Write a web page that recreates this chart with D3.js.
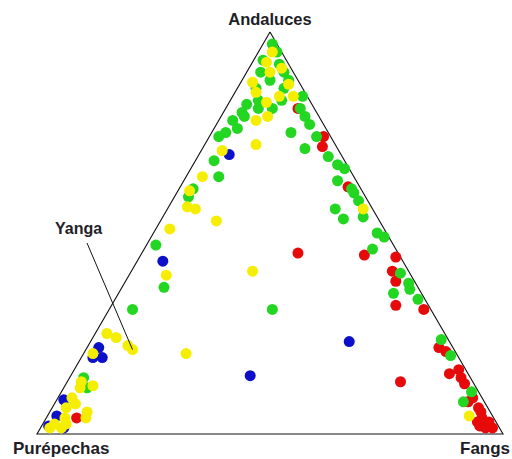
<!DOCTYPE html>
<html>
<head>
<meta charset="utf-8">
<script src="https://cdn.jsdelivr.net/npm/d3@7"></script>
<style>
  body { margin: 0; background: #fff; }
  svg { display: block; }
</style>
</head>
<body>
<script>
// corner labels: top, bottom-left, bottom-right
const corners = ["Andaluces", "Purépechas", "Fangs"];

// each row: [Andaluces, Purépechas, Fangs] in %
const redPts = [
  [81, 3.5, 15.5], [74, 1.5, 24.5], [71.5, 3, 25.5], [61.5, 2.5, 36], [45, 21.5, 33.5],
  [44.5, 7.5, 48], [44, 1, 55], [40.5, 3.5, 56], [38, 4, 58], [32, 7, 61],
  [31, 1.5, 67.5], [21.5, 3, 75.5], [20.5, 2, 77.5], [15, 4, 81], [16, 1.5, 82.5],
  [14, 2, 84], [12.5, 2, 85.5], [9, 2, 89], [8, 3.5, 88.5], [6.5, 2, 91.5],
  [5.5, 2, 92.5], [4, 2.5, 93.5], [3, 4, 93], [2.5, 2, 95.5], [2, 4, 94],
  [1.5, 1.5, 97], [1.5, 3, 95.5], [3, 1.5, 95.5], [13, 15.5, 71.5], [4, 89.5, 6.5]
];

const bluePts = [
  [69.5, 24, 6.5], [43, 51.5, 5.5], [23, 21.5, 55.5], [14.5, 47, 38.5], [21.5, 76, 2.5],
  [19, 76.5, 4.5], [19, 78.5, 2.5], [8.5, 90, 1.5], [4.5, 93.5, 2], [1.5, 93.5, 5],
  [2, 96.5, 1.5]
];

const greenPts = [
  [97, 1, 2], [95, 1, 4], [93, 5, 2], [92, 2, 6], [90, 2, 8], [90, 7, 3], [88, 6, 6],
  [88, 2, 10], [86, 10, 4], [84, 1, 15], [83, 11, 6], [81, 3, 16], [81, 9, 10], [82, 14, 4],
  [81, 12, 7], [83, 6, 11], [80, 16, 4], [79, 16, 5], [78, 19, 3], [76, 19, 5], [75, 22, 3],
  [74, 24, 2], [79, 3, 18], [77, 3, 20], [75, 8, 17], [74, 3, 23], [71, 7, 22], [69, 3, 28],
  [68, 28, 4], [67, 2, 31], [66, 1, 33], [63, 4, 33], [61, 2, 37], [60, 2, 38], [58, 2, 40],
  [56, 8, 36], [54, 3, 43], [53.5, 7.5, 39], [64, 29, 7], [61, 36, 3], [59, 38, 3], [50, 2, 48],
  [49, 1, 50], [46, 5, 49], [47, 51, 2], [36.5, 54.5, 9], [40, 2, 58], [37.5, 1.5, 61],
  [36, 2, 62], [35, 6, 59], [33.5, 1.5, 65], [31, 34, 35], [31, 64, 5], [23.5, 1.5, 75],
  [19.5, 1.5, 79], [10.5, 1.5, 88], [8, 4.5, 87.5], [14, 83, 3], [11.5, 83.5, 5], [86, 4, 10]
];

const yellowPts = [
  [95, 2, 3], [92.5, 4.5, 3], [91, 2, 7], [90, 5, 5], [87.5, 10, 2.5], [87, 2.5, 10.5],
  [85, 10.5, 4.5], [84, 6, 10], [84, 3, 13], [82.5, 9.5, 8], [78, 14, 8], [79, 11, 10],
  [72, 17, 11], [70.5, 25, 4.5], [64, 32.5, 3.5], [60.5, 37, 2.5], [56.5, 39.5, 4], [56, 38, 6],
  [53, 35, 12], [51, 46, 3], [40.5, 33.5, 26], [39.5, 52.5, 8], [56, 2, 42], [25, 72.5, 2.5],
  [24, 71, 5], [22, 69.5, 8.5], [20, 78, 2], [20, 58, 22], [13, 84, 3], [12, 82, 6],
  [11.5, 85, 3.5], [9, 88, 3], [7.5, 88, 4.5], [6.5, 90.5, 3], [5.5, 86.5, 8], [4, 87.5, 8.5],
  [2.5, 95, 2.5], [1.5, 94, 4.5], [1.5, 96.5, 2], [2.5, 92.5, 5], [4.5, 5, 90.5], [4, 92, 4]
];

// the annotated point
const yanga = { label: "Yanga", value: [21, 69, 10] };

const width = 512
const height = 459

const svg = d3.select("body").append("svg")
    .attr("width", width)
    .attr("height", height)
    .attr("font-family", "'Liberation Sans', Arial, sans-serif")
    .attr("font-weight", "bold")

// horizontal position runs along Fangs + Andaluces/2, vertical along Andaluces
const x = d3.scaleLinear().domain([0, 100]).range([37, 503])
const y = d3.scaleLinear().domain([0, 100]).range([434, 32])

function project(d) {
    const t = d[0] + d[1] + d[2]
    const a = d[0] / t * 100
    const f = d[2] / t * 100
    return [x(f + a / 2), y(a)]
}

const apex = project([100, 0, 0])
const cornerL = project([0, 100, 0])
const cornerR = project([0, 0, 100])

svg.append("path")
    .attr("d", d3.line()([apex, cornerL, cornerR, apex]))
    .attr("fill", "none")
    .attr("stroke", "#111")
    .attr("stroke-width", 1.1)

const series = [
    { pts: redPts, color: "#e60a0a" },
    { pts: bluePts, color: "#0c10c8" },
    { pts: greenPts, color: "#22d622" },
    { pts: yellowPts.concat([yanga.value]), color: "#f6ee00" },
]

series.forEach(s => {
    svg.append("g")
      .selectAll("circle")
      .data(s.pts)
      .join("circle")
        .attr("cx", d => project(d)[0])
        .attr("cy", d => project(d)[1])
        .attr("r", 5.5)
        .attr("fill", s.color)
})

// corner labels
svg.append("text")
    .attr("x", apex[0])
    .attr("y", 25)
    .attr("text-anchor", "middle")
    .attr("font-size", 16.5)
    .attr("fill", "#1e1e28")
    .text(corners[0])

svg.append("text")
    .attr("x", 13)
    .attr("y", 454)
    .attr("font-size", 17)
    .attr("fill", "#1e1e28")
    .text(corners[1])

svg.append("text")
    .attr("x", 460)
    .attr("y", 454)
    .attr("font-size", 17)
    .attr("fill", "#1e1e28")
    .text(corners[2])

// Yanga annotation
const yp = project(yanga.value)
svg.append("line")
    .attr("x1", 87).attr("y1", 243)
    .attr("x2", yp[0]).attr("y2", yp[1])
    .attr("stroke", "#111")
    .attr("stroke-width", 1)

svg.append("text")
    .attr("x", 55)
    .attr("y", 234)
    .attr("font-size", 16)
    .attr("fill", "#1e1e28")
    .text(yanga.label)
</script>
</body>
</html>
